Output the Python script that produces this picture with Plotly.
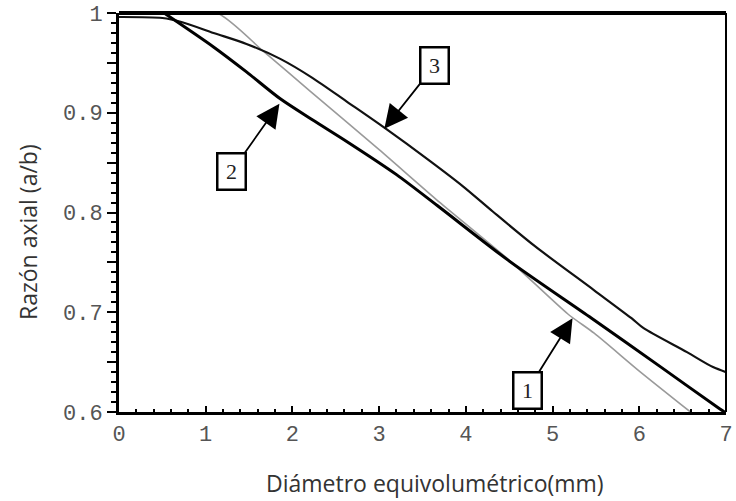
import plotly.graph_objects as go

# Curve 1 (gray, thin)
x1 = [0, 1.13, 1.66, 2.2, 3.0, 3.66, 4.49, 5.18, 5.48, 6.0, 6.59]
y1 = [1.0, 1.0, 0.962, 0.922, 0.863, 0.813, 0.753, 0.698, 0.679, 0.641, 0.6]

# Curve 2 (black, thick)
x2 = [0.52, 1.09, 1.47, 1.86, 2.23, 2.63, 3.2, 3.67, 4.49, 5.45, 6.25, 6.93, 7.0]
y2 = [1.0, 0.966, 0.941, 0.914, 0.893, 0.871, 0.838, 0.807, 0.752, 0.694, 0.645, 0.603, 0.599]

# Curve 3 (black)
x3 = [0, 0.5, 0.72, 1.09, 1.47, 1.86, 2.23, 2.63, 3.06, 3.58, 3.97, 4.31, 4.80,
      5.48, 5.91, 6.05, 6.55, 6.85, 7.0]
y3 = [0.996, 0.995, 0.991, 0.980, 0.969, 0.954, 0.935, 0.911, 0.885, 0.852, 0.826,
      0.801, 0.766, 0.722, 0.694, 0.684, 0.660, 0.645, 0.640]

# Labels: (text, arrow tip x, arrow tip y, box offset px dx, dy)
labels = ["1", "2", "3"]
label_tip_x = [5.23, 1.85, 3.06]
label_tip_y = [0.694, 0.909, 0.884]
label_dx = [-45, -48, 50]
label_dy = [72, 68, -63]

y_tickvals = [0.6, 0.65, 0.7, 0.75, 0.8, 0.85, 0.9, 0.95, 1.0]
y_ticktext = ["0.6", "", "0.7", "", "0.8", "", "0.9", "", "1"]
x_tickvals = [0, 1, 2, 3, 4, 5, 6, 7]

fig = go.Figure()
fig.add_trace(go.Scatter(x=x1, y=y1, mode="lines",
                         line=dict(color="#9a9a9a", width=1.6, shape="spline", smoothing=0.6)))
fig.add_trace(go.Scatter(x=x3, y=y3, mode="lines",
                         line=dict(color="#111111", width=2.2, shape="spline", smoothing=0.8)))
fig.add_trace(go.Scatter(x=x2, y=y2, mode="lines",
                         line=dict(color="#000000", width=3, shape="spline", smoothing=0.8)))

for t, tx, ty, dx, dy in zip(labels, label_tip_x, label_tip_y, label_dx, label_dy):
    fig.add_annotation(x=tx, y=ty, ax=dx, ay=dy, text=t, showarrow=True,
                       arrowhead=2, arrowsize=2.6, arrowwidth=1.8, arrowcolor="black",
                       bordercolor="black", borderwidth=2.5, borderpad=3, bgcolor="white",
                       width=20, height=28,
                       font=dict(family="Liberation Serif", size=22, color="#222"))

tick_font = dict(family="Liberation Mono", size=22, color="#555")

fig.update_xaxes(range=[0, 7], tickvals=x_tickvals, ticks="inside", ticklen=6,
                 tickwidth=2, tickcolor="black", showline=True, linewidth=3,
                 linecolor="black", showgrid=False, zeroline=False,
                 tickfont=tick_font, ticklabeloverflow="allow",
                 minor=dict(dtick=0.2, ticks="inside", ticklen=3, tickwidth=2,
                            tickcolor="black", showgrid=False))
fig.update_yaxes(range=[0.6, 1.0], tickvals=y_tickvals, ticktext=y_ticktext,
                 ticks="outside", ticklen=9, tickwidth=2, tickcolor="black",
                 showline=True, linewidth=3, linecolor="black", showgrid=False,
                 zeroline=False, tickfont=tick_font,
                 minor=dict(dtick=0.01, ticks="outside", ticklen=5, tickwidth=2,
                            tickcolor="black", showgrid=False))

# top and right borders
fig.add_shape(type="line", xref="paper", yref="paper", x0=0, x1=1, y0=1, y1=1,
              line=dict(color="black", width=4))
fig.add_shape(type="line", xref="paper", yref="paper", x0=1, x1=1, y0=0, y1=1,
              line=dict(color="black", width=2))

fig.add_annotation(text="Diámetro equivolumétrico(mm)", xref="paper", yref="paper",
                   x=0.52, y=-0.178, showarrow=False, xanchor="center", yanchor="middle",
                   font=dict(family="Open Sans", size=23, color="#333"))
fig.add_annotation(text="Razón axial (a/b)", xref="paper", yref="paper",
                   x=-0.15, y=0.451, showarrow=False, textangle=-90,
                   xanchor="center", yanchor="middle",
                   font=dict(family="Open Sans", size=23, color="#333"))

fig.update_layout(width=736, height=501, margin=dict(l=119, r=3, t=13, b=89),
                  plot_bgcolor="white", paper_bgcolor="white", showlegend=False)

fig.write_html("out.html")
